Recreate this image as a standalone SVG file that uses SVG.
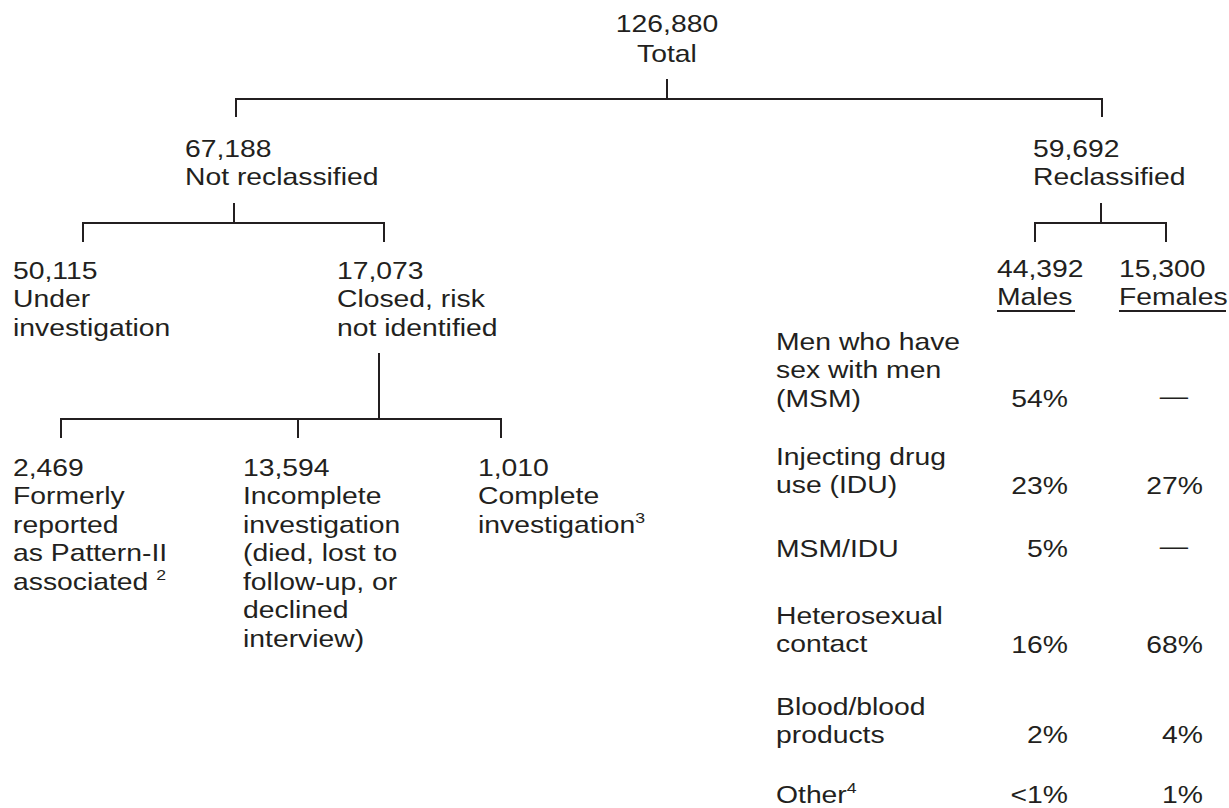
<svg xmlns="http://www.w3.org/2000/svg" width="1229" height="808" viewBox="0 0 1229 808">
<style>
text{font-family:"Liberation Sans",Arial,sans-serif;font-size:24px;fill:#231f20}
.m{text-anchor:middle}
.e{text-anchor:end}
.sup{font-size:15px}
.c{fill:none;stroke:#231f20;stroke-width:2}
</style>
<rect width="1229" height="808" fill="#fff"/>
<g id="connectors" class="c">
<path d="M667 79V99M236 117V99H1102V117"/>
<path d="M234 203V223M83 242V223H384V242"/>
<path d="M1101 203V223M1035 242V223H1166V242"/>
<path d="M379 353V419M61 438V419H501V438M298 419V438"/>
<path d="M997 311H1075M1119 311H1226"/>
</g>
<g id="total" transform="translate(667,32) scale(1.18,1)"><text class="m" x="0" y="0">126,880</text><text class="m" x="0" y="30">Total</text></g>
<g id="not-reclassified" transform="translate(185,157) scale(1.18,1)"><text x="0" y="0">67,188</text><text x="0" y="28.5">Not reclassified</text></g>
<g id="reclassified" transform="translate(1033,157) scale(1.18,1)"><text x="0" y="0">59,692</text><text x="0" y="28.5">Reclassified</text></g>
<g id="under-investigation" transform="translate(13,279) scale(1.18,1)"><text x="0" y="0">50,115</text><text x="0" y="28.5">Under</text><text x="0" y="57">investigation</text></g>
<g id="closed" transform="translate(337,279) scale(1.18,1)"><text x="0" y="0">17,073</text><text x="0" y="28.5">Closed, risk</text><text x="0" y="57">not identified</text></g>
<g id="formerly" transform="translate(13,476) scale(1.18,1)"><text x="0" y="0">2,469</text><text x="0" y="28.5">Formerly</text><text x="0" y="57">reported</text><text x="0" y="85.5">as Pattern-II</text><text x="0" y="114">associated <tspan class="sup" dy="-10">2</tspan></text></g>
<g id="incomplete" transform="translate(243,476) scale(1.18,1)"><text x="0" y="0">13,594</text><text x="0" y="28.5">Incomplete</text><text x="0" y="57">investigation</text><text x="0" y="85.5">(died, lost to</text><text x="0" y="114">follow-up, or</text><text x="0" y="142.5">declined</text><text x="0" y="171">interview)</text></g>
<g id="complete" transform="translate(478,476) scale(1.18,1)"><text x="0" y="0">1,010</text><text x="0" y="28.5">Complete</text><text x="0" y="57">investigation<tspan class="sup" dy="-10">3</tspan></text></g>
<g id="males" transform="translate(997,277) scale(1.18,1)"><text x="0" y="0">44,392</text><text x="0" y="28">Males</text></g>
<g id="females" transform="translate(1119,277) scale(1.18,1)"><text x="0" y="0">15,300</text><text x="0" y="28">Females</text></g>
<g id="table">
<g transform="translate(776,350) scale(1.18,1)"><text x="0" y="0">Men who have</text><text x="0" y="28.5">sex with men</text><text x="0" y="57">(MSM)</text></g>
<g transform="translate(1068,407) scale(1.18,1)"><text class="e" x="0" y="0">54%</text></g>
<g transform="translate(1174,404) scale(1.18,1)"><text class="m" x="0" y="0">—</text></g>
<g transform="translate(776,465) scale(1.18,1)"><text x="0" y="0">Injecting drug</text><text x="0" y="28.5">use (IDU)</text></g>
<g transform="translate(1068,494) scale(1.18,1)"><text class="e" x="0" y="0">23%</text></g>
<g transform="translate(1203,494) scale(1.18,1)"><text class="e" x="0" y="0">27%</text></g>
<g transform="translate(776,557) scale(1.18,1)"><text x="0" y="0">MSM/IDU</text></g>
<g transform="translate(1068,557) scale(1.18,1)"><text class="e" x="0" y="0">5%</text></g>
<g transform="translate(1174,554) scale(1.18,1)"><text class="m" x="0" y="0">—</text></g>
<g transform="translate(776,624) scale(1.18,1)"><text x="0" y="0">Heterosexual</text><text x="0" y="28.5">contact</text></g>
<g transform="translate(1068,653) scale(1.18,1)"><text class="e" x="0" y="0">16%</text></g>
<g transform="translate(1203,653) scale(1.18,1)"><text class="e" x="0" y="0">68%</text></g>
<g transform="translate(776,715) scale(1.18,1)"><text x="0" y="0">Blood/blood</text><text x="0" y="28.5">products</text></g>
<g transform="translate(1068,743) scale(1.18,1)"><text class="e" x="0" y="0">2%</text></g>
<g transform="translate(1203,743) scale(1.18,1)"><text class="e" x="0" y="0">4%</text></g>
<g transform="translate(776,803) scale(1.18,1)"><text x="0" y="0">Other<tspan class="sup" dy="-10">4</tspan></text></g>
<g transform="translate(1068,803) scale(1.18,1)"><text class="e" x="0" y="0">&lt;1%</text></g>
<g transform="translate(1203,803) scale(1.18,1)"><text class="e" x="0" y="0">1%</text></g>
</g>
</svg>
